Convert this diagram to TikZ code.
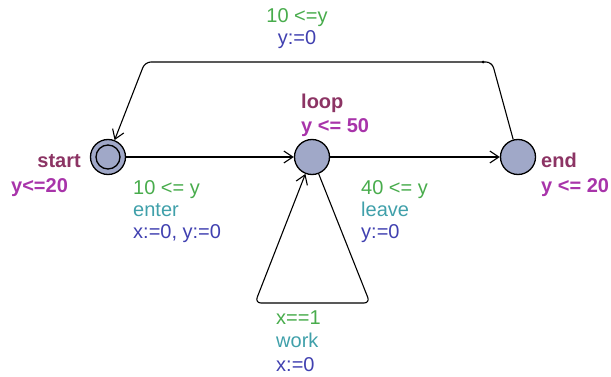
\documentclass[tikz,border=0pt]{standalone}
\usepackage{fontspec}
\setmainfont{Liberation Sans}
\usetikzlibrary{arrows.meta}
\definecolor{guardc}{RGB}{72,172,76}
\definecolor{syncc}{RGB}{64,160,170}
\definecolor{updc}{RGB}{64,64,176}
\definecolor{namec}{RGB}{140,52,100}
\definecolor{invc}{RGB}{168,52,170}
\definecolor{locfill}{RGB}{160,168,200}
\tikzset{
  loc/.style={circle, draw=black, line width=1.3pt, fill=locfill, minimum size=35pt, inner sep=0pt},
  locin/.style={circle, draw=black, line width=1.3pt, fill=locfill, minimum size=24pt, inner sep=0pt},
  edge/.style={line width=1.1pt, -{Straight Barb[length=9pt,width=12pt,line width=1.1pt]}, rounded corners=6pt},
  lab/.style={font=\fontsize{20}{22}\selectfont, inner sep=0pt, anchor=base west},
  guard/.style={lab, text=guardc},
  sync/.style={lab, text=syncc},
  upd/.style={lab, text=updc},
  lname/.style={lab, font=\fontsize{20}{22}\selectfont\bfseries, text=namec},
  linv/.style={lab, font=\fontsize{20}{22}\selectfont\bfseries, text=invc}
}
\begin{document}
\begin{tikzpicture}[x=1pt,y=1pt]
\useasboundingbox (0,0) rectangle (611,376);
% locations
\node[loc] (start) at (108,219) {};
\node[locin] (startin) at (108,219) {};
\node[loc] (loop) at (312,219) {};
\node[loc] (end) at (518,219) {};
% location labels
\node[lname, anchor=base east] (startname) at (81,209) {start};
\node[linv] (startinv) at (11,184) {y<=20};
\node[lname] (loopname) at (301,268) {loop};
\node[linv] (loopinv) at (301,244) {y <= 50};
\node[lname] (endname) at (541,209) {end};
\node[linv] (endinv) at (541,184) {y <= 20};
% corner coordinates
\coordinate (c1) at (492,314);
\coordinate (c2) at (145,314);
\coordinate (c3) at (370,73);
\coordinate (c4) at (255,73);
% edges
\draw[edge] (start) -- (loop);
\draw[edge] (loop) -- (end);
\draw[edge] (end) -- (c1) -- (c2) -- (start);
\draw[edge] (loop) -- (c3) -- (c4) -- (loop);
\fill (483,314) circle (1.5pt);
% edge labels
\node[guard, anchor=base] (tg) at (297,353) {10 <=y};
\node[upd, anchor=base] (tu) at (297,331) {y:=0};
\node[guard] (eg) at (133,182) {10 <= y};
\node[sync] (es) at (133,160) {enter};
\node[upd] (eu) at (133,138) {x:=0, y:=0};
\node[guard] (lg) at (361,182) {40 <= y};
\node[sync] (ls) at (361,160) {leave};
\node[upd] (lu) at (361,138) {y:=0};
\node[guard] (wg) at (276,52) {x==1};
\node[sync] (ws) at (276,29) {work};
\node[upd] (wu) at (276,5) {x:=0};
\end{tikzpicture}
\end{document}
